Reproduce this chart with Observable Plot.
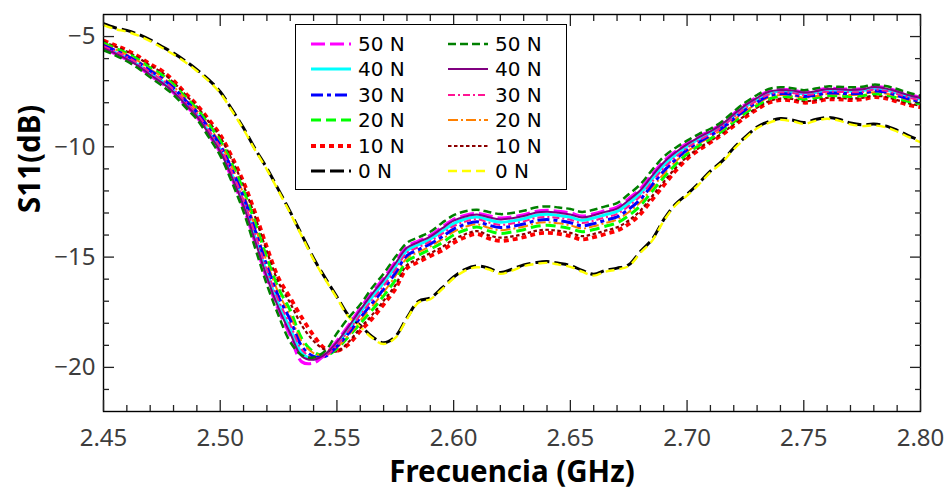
<!DOCTYPE html>
<html>
<head>
<meta charset="utf-8">
<script src="https://cdn.jsdelivr.net/npm/d3@7"></script>
<script src="https://cdn.jsdelivr.net/npm/@observablehq/plot@0.6"></script>
<style>
  body { margin: 0; background: #fff; }
  #wrap { position: relative; width: 946px; height: 493px; }
  #legend { position: absolute; left: 295px; top: 24px; width: 270px; height: 164px;
    border: 1.3px solid #000; background: #fff; font-family: "DejaVu Sans", sans-serif; font-size: 20px; color: #000; }
  .entry { position: absolute; display: flex; align-items: center; height: 24px; }
  .entry svg { display: block; }
  .entry span { margin-left: 7px; white-space: nowrap; }
</style>
</head>
<body>
<div id="wrap"><div id="legend"></div></div>
<script>
// ---- data ----
const freq = [2.450,2.455,2.460,2.465,2.470,2.475,2.480,2.485,2.490,2.495,2.500,2.505,2.510,2.515,2.520,2.525,2.530,2.535,2.540,2.545,2.550,2.555,2.560,2.565,2.570,2.575,2.580,2.585,2.590,2.595,2.600,2.605,2.610,2.615,2.620,2.625,2.630,2.635,2.640,2.645,2.650,2.655,2.660,2.665,2.670,2.675,2.680,2.685,2.690,2.695,2.700,2.705,2.710,2.715,2.720,2.725,2.730,2.735,2.740,2.745,2.750,2.755,2.760,2.765,2.770,2.775,2.780,2.785,2.790,2.795,2.800];

// column 1 series
const s50a = [-5.55,-5.78,-6.05,-6.37,-6.76,-7.12,-7.55,-8.10,-8.65,-9.43,-10.26,-11.43,-12.75,-14.36,-16.00,-17.40,-18.55,-19.75,-19.80,-19.40,-18.80,-18.10,-17.33,-16.61,-15.96,-15.22,-14.52,-14.27,-14.02,-13.64,-13.29,-13.10,-13.02,-13.13,-13.23,-13.18,-13.08,-12.93,-12.88,-12.93,-13.00,-13.14,-13.04,-12.89,-12.74,-12.35,-11.90,-11.25,-10.65,-10.21,-9.84,-9.53,-9.27,-8.94,-8.50,-8.08,-7.75,-7.47,-7.39,-7.42,-7.52,-7.45,-7.35,-7.37,-7.39,-7.37,-7.27,-7.32,-7.47,-7.63,-7.76];
const s40a = [-5.49,-5.72,-5.97,-6.29,-6.67,-7.02,-7.46,-8.01,-8.56,-9.31,-10.12,-11.26,-12.55,-14.12,-15.74,-17.14,-18.25,-19.35,-19.62,-19.45,-18.95,-18.25,-17.51,-16.82,-16.17,-15.44,-14.70,-14.44,-14.18,-13.83,-13.48,-13.27,-13.18,-13.31,-13.42,-13.36,-13.26,-13.11,-13.06,-13.11,-13.19,-13.33,-13.23,-13.08,-12.93,-12.56,-12.11,-11.46,-10.84,-10.37,-9.97,-9.64,-9.37,-9.03,-8.60,-8.18,-7.85,-7.57,-7.47,-7.51,-7.60,-7.54,-7.44,-7.45,-7.47,-7.45,-7.35,-7.41,-7.55,-7.72,-7.84];
const s30a = [-5.40,-5.63,-5.87,-6.18,-6.55,-6.89,-7.33,-7.88,-8.43,-9.15,-9.93,-11.03,-12.28,-13.80,-15.40,-16.80,-17.85,-19.05,-19.50,-19.50,-19.05,-18.45,-17.75,-17.10,-16.45,-15.73,-14.93,-14.66,-14.40,-14.08,-13.73,-13.51,-13.40,-13.55,-13.66,-13.60,-13.50,-13.35,-13.30,-13.35,-13.44,-13.58,-13.48,-13.33,-13.18,-12.83,-12.38,-11.73,-11.10,-10.58,-10.14,-9.79,-9.49,-9.15,-8.73,-8.32,-7.98,-7.69,-7.59,-7.62,-7.72,-7.66,-7.56,-7.57,-7.59,-7.57,-7.47,-7.52,-7.67,-7.83,-7.94];
const s20a = [-5.30,-5.53,-5.76,-6.05,-6.42,-6.74,-7.18,-7.73,-8.28,-8.97,-9.72,-10.77,-11.98,-13.45,-15.03,-16.43,-17.41,-18.70,-19.30,-19.48,-19.15,-18.60,-18.01,-17.41,-16.76,-16.04,-15.18,-14.91,-14.64,-14.35,-14.00,-13.77,-13.64,-13.81,-13.93,-13.86,-13.76,-13.61,-13.56,-13.61,-13.71,-13.85,-13.75,-13.60,-13.45,-13.12,-12.67,-12.02,-11.39,-10.81,-10.32,-9.95,-9.63,-9.28,-8.87,-8.46,-8.12,-7.83,-7.72,-7.74,-7.84,-7.78,-7.68,-7.69,-7.72,-7.69,-7.59,-7.64,-7.79,-7.95,-8.05];
const s10a = [-5.18,-5.40,-5.62,-5.90,-6.25,-6.55,-7.00,-7.55,-8.10,-8.75,-9.45,-10.45,-11.60,-13.00,-14.55,-15.95,-16.85,-17.75,-18.55,-19.15,-19.25,-18.95,-18.35,-17.80,-17.15,-16.45,-15.50,-15.22,-14.95,-14.70,-14.35,-14.10,-13.95,-14.15,-14.27,-14.20,-14.10,-13.95,-13.90,-13.95,-14.05,-14.20,-14.10,-13.95,-13.80,-13.50,-13.05,-12.40,-11.75,-11.10,-10.55,-10.15,-9.80,-9.45,-9.05,-8.65,-8.30,-8.00,-7.88,-7.90,-8.00,-7.95,-7.85,-7.85,-7.88,-7.85,-7.75,-7.80,-7.95,-8.10,-8.20];
const s0a = [-4.42,-4.60,-4.72,-4.90,-5.15,-5.45,-5.75,-6.10,-6.50,-6.95,-7.50,-8.30,-9.15,-10.10,-10.97,-11.95,-12.95,-14.00,-15.05,-15.95,-16.80,-17.65,-18.10,-18.60,-18.88,-18.60,-17.75,-17.00,-16.85,-16.40,-15.90,-15.55,-15.40,-15.50,-15.70,-15.55,-15.35,-15.25,-15.20,-15.28,-15.38,-15.60,-15.78,-15.60,-15.50,-15.35,-14.75,-14.20,-13.30,-12.60,-12.15,-11.65,-11.10,-10.65,-10.05,-9.55,-9.10,-8.85,-8.72,-8.78,-8.90,-8.76,-8.67,-8.75,-8.92,-9.00,-8.97,-9.05,-9.25,-9.50,-9.73];

// column 2 series
const s50b = [-5.62,-5.85,-6.12,-6.45,-6.85,-7.22,-7.65,-8.20,-8.75,-9.55,-10.40,-11.60,-12.95,-14.60,-16.25,-17.65,-18.85,-19.45,-19.55,-19.25,-18.45,-17.75,-17.15,-16.40,-15.75,-15.00,-14.35,-14.10,-13.85,-13.45,-13.10,-12.92,-12.85,-12.95,-13.05,-13.00,-12.90,-12.75,-12.70,-12.75,-12.82,-12.95,-12.85,-12.70,-12.55,-12.15,-11.70,-11.05,-10.45,-10.05,-9.72,-9.42,-9.18,-8.85,-8.40,-7.98,-7.65,-7.38,-7.30,-7.34,-7.43,-7.36,-7.26,-7.28,-7.30,-7.28,-7.18,-7.24,-7.38,-7.55,-7.68];
const s40b = [-5.53,-5.76,-6.02,-6.34,-6.73,-7.09,-7.52,-8.07,-8.62,-9.39,-10.21,-11.37,-12.68,-14.28,-15.91,-17.31,-18.45,-19.50,-19.65,-19.40,-18.85,-18.15,-17.39,-16.68,-16.03,-15.29,-14.58,-14.32,-14.07,-13.70,-13.35,-13.16,-13.07,-13.19,-13.29,-13.24,-13.14,-12.99,-12.94,-12.99,-13.07,-13.20,-13.10,-12.95,-12.80,-12.42,-11.97,-11.32,-10.71,-10.26,-9.89,-9.57,-9.30,-8.97,-8.53,-8.11,-7.78,-7.50,-7.42,-7.45,-7.54,-7.48,-7.38,-7.39,-7.42,-7.39,-7.29,-7.35,-7.49,-7.66,-7.78];
const s30b = [-5.44,-5.67,-5.92,-6.23,-6.61,-6.95,-7.39,-7.94,-8.49,-9.23,-10.02,-11.14,-12.41,-13.96,-15.57,-16.97,-18.05,-19.20,-19.58,-19.50,-19.00,-18.35,-17.63,-16.96,-16.31,-15.58,-14.81,-14.55,-14.29,-13.95,-13.60,-13.39,-13.29,-13.43,-13.54,-13.48,-13.38,-13.23,-13.18,-13.23,-13.31,-13.45,-13.35,-13.20,-13.05,-12.69,-12.24,-11.59,-10.97,-10.47,-10.05,-9.71,-9.43,-9.09,-8.66,-8.25,-7.91,-7.63,-7.53,-7.56,-7.66,-7.60,-7.50,-7.51,-7.53,-7.51,-7.41,-7.46,-7.61,-7.77,-7.89];
const s20b = [-5.36,-5.58,-5.82,-6.12,-6.49,-6.82,-7.26,-7.81,-8.36,-9.07,-9.83,-10.91,-12.14,-13.64,-15.23,-16.63,-17.65,-18.85,-19.35,-19.45,-19.10,-18.55,-17.87,-17.24,-16.59,-15.87,-15.04,-14.77,-14.51,-14.20,-13.85,-13.63,-13.51,-13.67,-13.78,-13.72,-13.62,-13.47,-13.42,-13.47,-13.56,-13.70,-13.60,-13.45,-13.30,-12.96,-12.51,-11.86,-11.23,-10.68,-10.22,-9.86,-9.55,-9.21,-8.79,-8.38,-8.04,-7.75,-7.65,-7.68,-7.77,-7.71,-7.61,-7.62,-7.65,-7.62,-7.52,-7.58,-7.72,-7.88,-7.99];
const s10b = [-5.23,-5.45,-5.68,-5.97,-6.32,-6.63,-7.08,-7.63,-8.18,-8.85,-9.56,-10.59,-11.76,-13.19,-14.75,-16.15,-17.09,-18.10,-18.80,-19.20,-19.28,-18.85,-18.21,-17.63,-16.98,-16.28,-15.36,-15.09,-14.82,-14.55,-14.20,-13.96,-13.82,-14.01,-14.12,-14.06,-13.96,-13.81,-13.76,-13.81,-13.90,-14.05,-13.95,-13.80,-13.65,-13.34,-12.89,-12.24,-11.59,-10.97,-10.45,-10.06,-9.73,-9.38,-8.97,-8.57,-8.22,-7.93,-7.81,-7.83,-7.93,-7.88,-7.78,-7.78,-7.81,-7.78,-7.68,-7.73,-7.88,-8.03,-8.14];
const s0b = [-4.48,-4.66,-4.78,-4.96,-5.21,-5.51,-5.81,-6.16,-6.56,-7.01,-7.56,-8.36,-9.21,-10.16,-11.03,-12.01,-13.01,-14.06,-15.11,-16.01,-16.86,-17.71,-18.16,-18.66,-18.94,-18.66,-17.81,-17.06,-16.91,-16.46,-15.96,-15.61,-15.46,-15.56,-15.76,-15.61,-15.41,-15.31,-15.26,-15.34,-15.44,-15.66,-15.84,-15.66,-15.56,-15.41,-14.81,-14.26,-13.36,-12.66,-12.21,-11.71,-11.16,-10.71,-10.11,-9.61,-9.16,-8.91,-8.78,-8.84,-8.96,-8.82,-8.73,-8.81,-8.98,-9.06,-9.03,-9.11,-9.31,-9.56,-9.79];

const labels1 = ["50 N","40 N","30 N","20 N","10 N","0 N"];
const labels2 = ["50 N","40 N","30 N","20 N","10 N","0 N"];
const values1 = [s50a, s40a, s30a, s20a, s10a, s0a];
const values2 = [s50b, s40b, s30b, s20b, s10b, s0b];

const xMajor = [2.45,2.50,2.55,2.60,2.65,2.70,2.75,2.80];
const xMinor = [2.46,2.47,2.48,2.49,2.51,2.52,2.53,2.54,2.56,2.57,2.58,2.59,2.61,2.62,2.63,2.64,2.66,2.67,2.68,2.69,2.71,2.72,2.73,2.74,2.76,2.77,2.78,2.79];
const yMajor = [-20,-15,-10,-5];
const yMinor = [-21,-19,-18,-17,-16,-14,-13,-12,-11,-9,-8,-7,-6];

// ---- styles (kept apart from data) ----
const style1 = [
  {stroke: "#ff00ff", width: 3.2, dash: "14,5"},
  {stroke: "#00ffff", width: 3, dash: null},
  {stroke: "#0000ff", width: 3, dash: "12,4,4,4"},
  {stroke: "#00ff00", width: 3, dash: "10,5"},
  {stroke: "#ff0000", width: 3.8, dash: "5,4"},
  {stroke: "#000000", width: 3, dash: "14,5"}
];
const style2 = [
  {stroke: "#008000", width: 2.5, dash: "8,4"},
  {stroke: "#800080", width: 2, dash: null},
  {stroke: "#ff1493", width: 2, dash: "7,3,2,3"},
  {stroke: "#ff8000", width: 2, dash: "10,3,2,3"},
  {stroke: "#8b0000", width: 2.2, dash: "3.5,2.5"},
  {stroke: "#ffff00", width: 2.4, dash: "9,5"}
];

function lineMark(vals, st) {
  const rows = freq.map((f, i) => ({f, v: vals[i]}));
  return Plot.line(rows, {
    x: "f", y: "v", stroke: st.stroke, strokeWidth: st.width,
    strokeDasharray: st.dash || undefined, curve: "catmull-rom", clip: true,
    strokeLinecap: "butt", strokeLinejoin: "round"
  });
}

// draw order
const order = [
  [values1[5], style1[5]], [values2[5], style2[5]],
  [values1[1], style1[1]],
  [values1[4], style1[4]], [values2[4], style2[4]],
  [values1[3], style1[3]], [values2[3], style2[3]],
  [values1[2], style1[2]], [values2[2], style2[2]],
  [values1[0], style1[0]],
  [values2[1], style2[1]], [values2[0], style2[0]]
];

const tickCol = "#222";
const labCol = "#3d3d3d";
const blank = () => "";

const chart = Plot.plot({
  width: 946, height: 493,
  marginLeft: 103, marginRight: 26, marginTop: 14, marginBottom: 82,
  x: {domain: [2.45, 2.80], axis: null},
  y: {domain: [-22, -4], axis: null},
  style: {fontFamily: "'Noto Sans', sans-serif", background: "#fff"},
  marks: [
    ...order.map(([v, s]) => lineMark(v, s)),
    Plot.frame({stroke: "#000", strokeWidth: 1.4}),
    // inward ticks, all four sides
    Plot.axisX(xMajor, {anchor: "bottom", tickSize: -11, tickFormat: blank, label: null, stroke: tickCol, strokeWidth: 1.3}),
    Plot.axisX(xMinor, {anchor: "bottom", tickSize: -6, tickFormat: blank, label: null, stroke: tickCol, strokeWidth: 1.3}),
    Plot.axisX(xMajor, {anchor: "top", tickSize: -11, tickFormat: blank, label: null, stroke: tickCol, strokeWidth: 1.3}),
    Plot.axisX(xMinor, {anchor: "top", tickSize: -6, tickFormat: blank, label: null, stroke: tickCol, strokeWidth: 1.3}),
    Plot.axisY(yMajor, {anchor: "left", tickSize: -11, tickFormat: blank, label: null, stroke: tickCol, strokeWidth: 1.3}),
    Plot.axisY(yMinor, {anchor: "left", tickSize: -6, tickFormat: blank, label: null, stroke: tickCol, strokeWidth: 1.3}),
    Plot.axisY(yMajor, {anchor: "right", tickSize: -11, tickFormat: blank, label: null, stroke: tickCol, strokeWidth: 1.3}),
    Plot.axisY(yMinor, {anchor: "right", tickSize: -6, tickFormat: blank, label: null, stroke: tickCol, strokeWidth: 1.3}),
    // tick labels
    Plot.axisX(xMajor, {anchor: "bottom", tickSize: 0, tickPadding: 17, tickFormat: d3.format(".2f"), label: null, fontSize: 24, fill: labCol}),
    Plot.axisY(yMajor, {anchor: "left", tickSize: 0, tickPadding: 8, tickFormat: d3.format("d"), label: null, fontSize: 24, fill: labCol}),
    // axis titles
    Plot.text(["Frecuencia (GHz)"], {frameAnchor: "bottom", dy: 70, fontSize: 29.5, fontWeight: "bold", fill: "#000"}),
    Plot.text(["S11(dB)"], {frameAnchor: "left", dx: -73, rotate: -90, fontSize: 29.5, fontWeight: "bold", fill: "#000"})
  ]
});

const wrap = document.getElementById("wrap");
wrap.insertBefore(chart, wrap.firstChild);
chart.style.position = "absolute";
chart.style.left = "0px";
chart.style.top = "0px";

// ---- legend (overlay inside the plot area) ----
const legend = document.getElementById("legend");
function addEntry(label, st, col, row) {
  const div = document.createElement("div");
  div.className = "entry";
  div.style.left = (col === 0 ? 15 : 152) + "px";
  div.style.top = (7 + row * 25.4) + "px";
  const svg = d3.create("svg").attr("width", 40).attr("height", 24);
  svg.append("line").attr("x1", 0).attr("x2", 40).attr("y1", 12).attr("y2", 12)
    .attr("stroke", st.stroke).attr("stroke-width", st.width)
    .attr("stroke-dasharray", st.dash || null);
  div.appendChild(svg.node());
  const span = document.createElement("span");
  span.textContent = label;
  div.appendChild(span);
  legend.appendChild(div);
}
labels1.forEach((l, i) => addEntry(l, style1[i], 0, i));
labels2.forEach((l, i) => addEntry(l, style2[i], 1, i));
</script>
</body>
</html>
